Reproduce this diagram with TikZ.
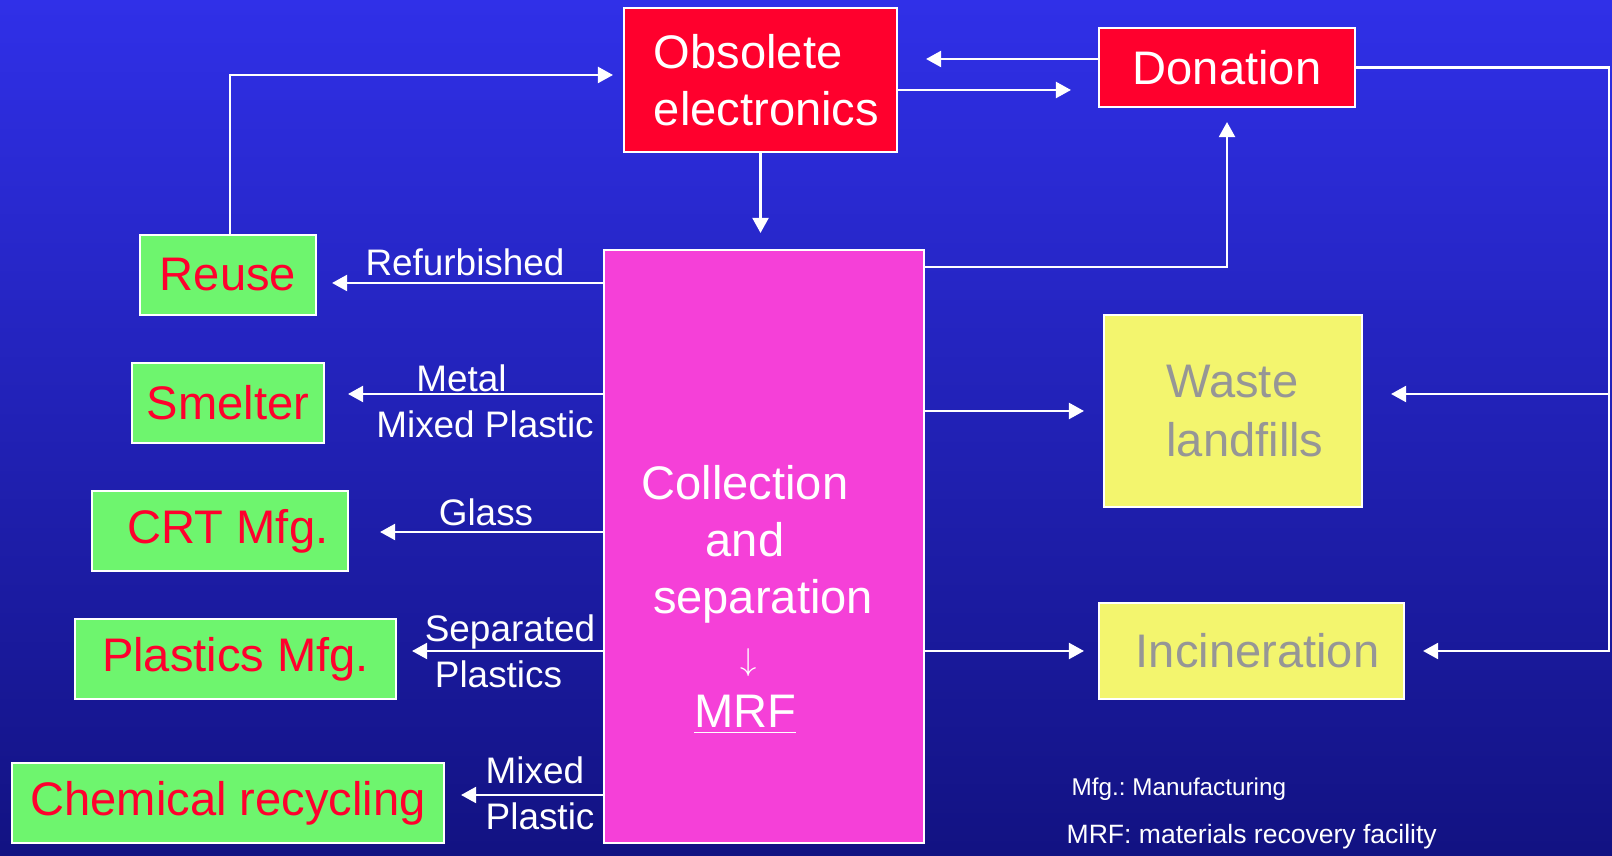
\documentclass[tikz,border=0pt]{standalone}
\usepackage{fontspec}
\setmainfont{Liberation Sans}
\usepackage{xcolor}
\usetikzlibrary{positioning, calc, arrows.meta}

\definecolor{bgtop}{RGB}{48,48,232}
\definecolor{bgbot}{RGB}{18,18,130}
\definecolor{boxred}{RGB}{255,0,45}
\definecolor{boxgreen}{RGB}{110,245,110}
\definecolor{boxpink}{RGB}{245,64,216}
\definecolor{boxyellow}{RGB}{243,245,110}
\definecolor{txtgray}{RGB}{150,150,150}

\newcommand{\bigtxt}{\fontsize{13.4}{16.2}\selectfont}
\newcommand{\midtxt}{\fontsize{10.5}{13.1}\selectfont}
\newcommand{\smalltxt}{\fontsize{7.55}{9}\selectfont}
\newcommand{\tinytxt}{\fontsize{6.9}{9}\selectfont}
\frenchspacing

\begin{document}
\begin{tikzpicture}[
    box/.style={draw=white, line width=0.6pt, inner sep=2pt,
                font=\bigtxt},
    redbox/.style={box, fill=boxred, text=white},
    greenbox/.style={box, fill=boxgreen, text=boxred},
    yellowbox/.style={box, fill=boxyellow, text=txtgray},
    flow/.style={-{Triangle[length=0.15cm, width=0.16cm]}, white,
                 line width=0.6pt},
    line/.style={white, line width=0.6pt},
    annot/.style={font=\midtxt, text=white, inner sep=0pt},
]
% --- Background ---
\shade[top color=bgtop, bottom color=bgbot] (0,0) rectangle (16.12,8.55);
\useasboundingbox (0,0) rectangle (16.12,8.55);

% --- Top row ---
\node[redbox, minimum width=2.73cm, minimum height=1.44cm, align=left]
    (obsolete) at (7.605, 7.75)
    {\hspace*{0.12cm}Obsolete\\\hspace*{0.12cm}electronics};
\node[redbox, minimum width=2.56cm, minimum height=0.79cm]
    (donation) at (12.27, 7.875) {Donation};

% --- Collection / MRF ---
\node[box, fill=boxpink, minimum width=3.20cm, minimum height=5.93cm]
    (coll) at (7.64, 3.085) {};
\node[font=\bigtxt, text=white, align=center, inner sep=0pt] (colltext)
    at (7.45, 2.55)
    {Collection\\and\\\hspace*{0.36cm}separation\\
     \hspace*{0.08cm}{\fontsize{9}{16.2}\selectfont$\downarrow$}\\\underline{MRF}};

% --- Recovery outlets ---
\node[greenbox, minimum width=1.76cm, minimum height=0.80cm]
    (reuse) at (2.28, 5.80) {Reuse};
\node[greenbox, minimum width=1.92cm, minimum height=0.80cm]
    (smelter) at (2.28, 4.52) {Smelter};
\node[greenbox, minimum width=2.56cm, minimum height=0.80cm]
    (crt) at (2.20, 3.24) {\hspace*{0.16cm}CRT Mfg.};
\node[greenbox, minimum width=3.21cm, minimum height=0.80cm]
    (plastics) at (2.355, 1.96) {Plastics Mfg.};
\node[greenbox, minimum width=4.32cm, minimum height=0.80cm]
    (chem) at (2.28, 0.52) {Chemical recycling};

% --- Disposal ---
\node[yellowbox, minimum width=2.58cm, minimum height=1.92cm, align=left]
    (waste) at (12.33, 4.44)
    {\hspace*{0.24cm}Waste\\[0.4pt]\hspace*{0.24cm}landfills};
\node[yellowbox, minimum width=3.05cm, minimum height=0.96cm]
    (incin) at (12.515, 2.04) {\hspace*{0.12cm}Incineration};

% --- Flows between top boxes ---
\draw[flow, shorten >=0.28cm] (donation.west |- 0,7.96) -- (obsolete.east |- 0,7.96);
\draw[flow, shorten >=0.27cm] (obsolete.east |- 0,7.65) -- (donation.west |- 0,7.65);
\draw[flow, shorten >=0.16cm] (obsolete.south) -- (coll.north -| obsolete.south);
\draw[flow, shorten >=0.10cm] (reuse.north -| 2.30,0) |- (obsolete.west |- 0,7.80);
\draw[flow, shorten >=0.14cm] (coll.east |- 0,5.88) -| (donation.south);

% --- Outputs of the MRF ---
\foreach \dest/\yy/\gap in {reuse/5.72/0.15, smelter/4.61/0.23,
                            crt/3.23/0.31, plastics/2.04/0.15, chem/0.60/0.16}
  \draw[flow, shorten >=\gap cm] (coll.west |- 0,\yy) -- (\dest.east |- 0,\yy);

\draw[flow, shorten >=0.19cm] (coll.east |- waste) -- (waste.west);
\draw[flow, shorten >=0.14cm] (coll.east |- incin) -- (incin.west);

% --- Donation rail on the right ---
\coordinate (rail) at (16.09, 0);
\draw[flow, shorten >=0.18cm] (donation.east) -| (rail |- incin) -- (incin.east);
\draw[flow, shorten >=0.28cm] (rail |- 0,4.61) -- (waste.east |- 0,4.61);

% --- Flow labels ---
\node[annot] (lbl_refurb) at (4.65, 5.93) {Refurbished};
\node[annot, align=center] (lbl_metal) at (4.85, 4.54)
    {Metal\hspace*{0.47cm}\\Mixed Plastic};
\node[annot] (lbl_glass) at (4.86, 3.43) {Glass};
\node[annot, align=center] (lbl_sep) at (5.10, 2.04)
    {Separated\\Plastics\hspace*{0.23cm}};
\node[annot, align=left, anchor=west] (lbl_mixed) at (4.85, 0.615)
    {Mixed\\Plastic};

% --- Footnotes ---
\node[annot, font=\tinytxt, anchor=west] (note_mfg) at (10.71, 0.66)
    {Mfg.: Manufacturing};
\node[annot, font=\smalltxt, anchor=west] (note_mrf) at (10.66, 0.18)
    {MRF: materials recovery facility};
\end{tikzpicture}
\end{document}
